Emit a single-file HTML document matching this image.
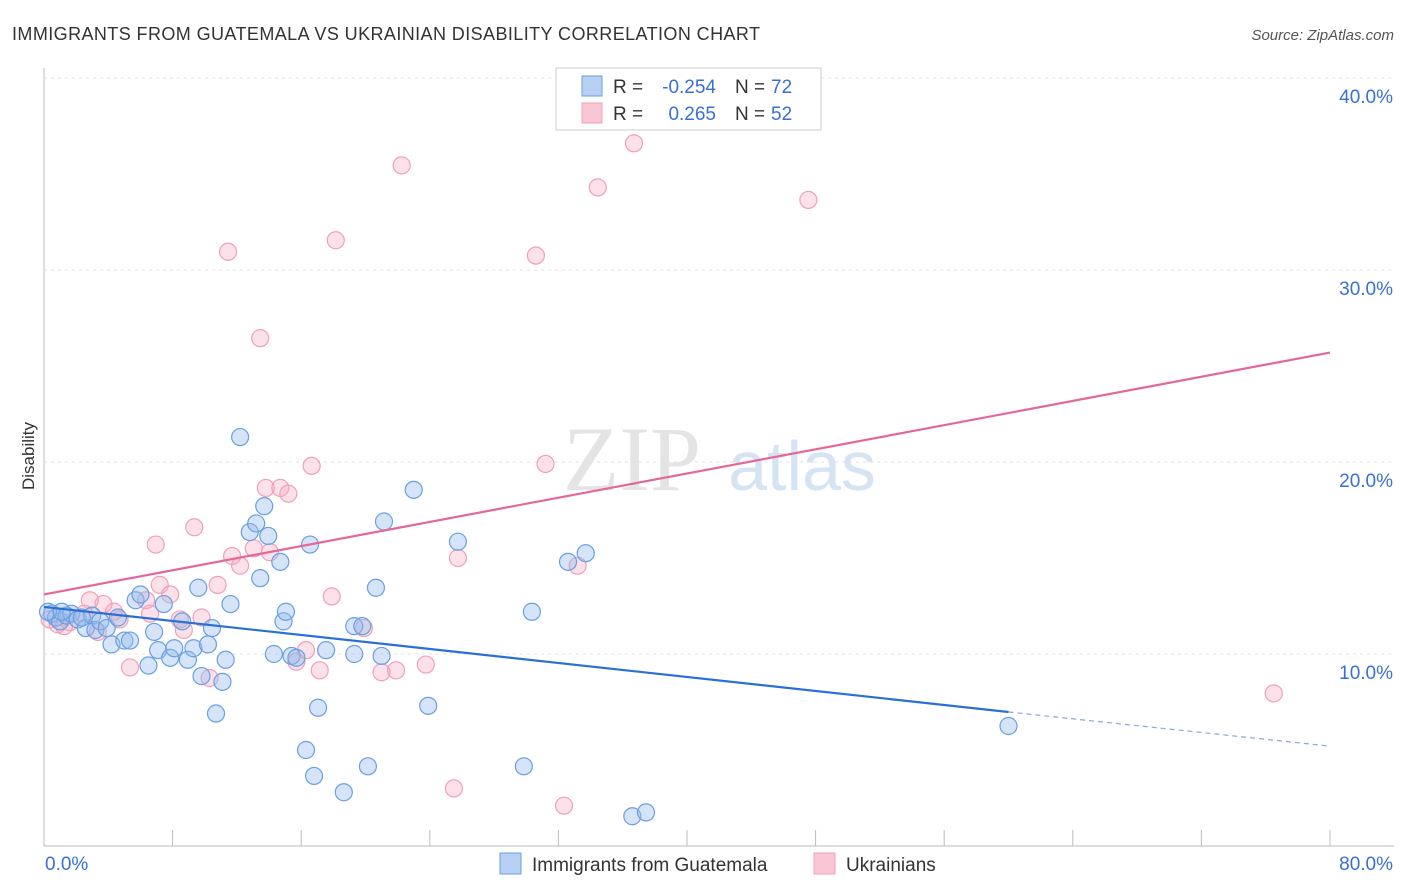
<!DOCTYPE html>
<html><head><meta charset="utf-8"><style>
body{margin:0;background:#fff;font-family:"Liberation Sans",sans-serif}
svg{display:block}
</style></head><body>
<svg id="chart" width="1406" height="892" xmlns="http://www.w3.org/2000/svg">
<text x="12" y="40" font-size="18" fill="#333" textLength="748">IMMIGRANTS FROM GUATEMALA VS UKRAINIAN DISABILITY CORRELATION CHART</text>
<text x="1394" y="40" font-size="15" fill="#555" font-style="italic" text-anchor="end">Source: ZipAtlas.com</text>
<text x="632" y="490" font-size="92" fill="#e4e4e4" font-family="Liberation Serif,serif" text-anchor="middle">ZIP</text>
<text x="802" y="490" font-size="70" fill="#d6e3f3" text-anchor="middle">atlas</text>
<text transform="translate(34,456) rotate(-90)" font-size="17" fill="#333" text-anchor="middle">Disability</text>
<g id="grid"></g><g id="pts"></g><g id="lines"></g>
<g>
<rect x="556" y="68" width="265" height="62" fill="#fff" stroke="#ccc"/>
<rect x="582" y="76" width="20" height="20" fill="#b5d0f3" stroke="#6a9fe0"/>
<rect x="582" y="103" width="20" height="20" fill="#f9c6d5" stroke="#f0a0b8"/>
<text x="613" y="93" font-size="19" fill="#333">R =</text>
<text x="716" y="93" font-size="19" fill="#3a70d0" text-anchor="end">-0.254</text>
<text x="735" y="93" font-size="19" fill="#333">N =</text>
<text x="771" y="93" font-size="19" fill="#3a70d0">72</text>
<text x="613" y="120" font-size="19" fill="#333">R =</text>
<text x="716" y="120" font-size="19" fill="#3a70d0" text-anchor="end">0.265</text>
<text x="735" y="120" font-size="19" fill="#333">N =</text>
<text x="771" y="120" font-size="19" fill="#3a70d0">52</text>
</g>
<g>
<rect x="500" y="853" width="21" height="21" fill="#b5d0f3" stroke="#6a9fe0"/>
<text x="532" y="871" font-size="19" fill="#333">Immigrants from Guatemala</text>
<rect x="814" y="853" width="21" height="21" fill="#f9c6d5" stroke="#f0a0b8"/>
<text x="846" y="871" font-size="19" fill="#333">Ukrainians</text>
</g>
</svg>
<script>
const xTicks=[0,10,20,30,40,50,60,70,80];
const yTicks=[10,20,30,40];
const blueX=[0.5,0.75,1.0,1.4,1.7,2.1,2.6,3.0,3.2,3.5,3.9,4.2,4.6,5.0,5.35,5.7,6.0,6.5,6.85,7.1,7.45,7.85,8.1,8.6,8.95,9.3,9.6,9.8,10.2,10.45,10.7,11.1,11.3,11.6,12.2,12.8,13.2,13.45,13.7,13.95,14.3,14.7,14.9,15.05,15.4,15.7,16.3,16.55,16.8,17.05,17.55,18.65,19.3,19.3,19.8,20.15,20.65,21.0,21.15,23.0,23.9,25.75,29.85,30.35,32.6,33.7,36.6,37.45,60.0,0.25,1.1,2.35];
const blueY=[12.1,11.9,11.7,12.0,12.1,11.8,11.35,12.0,11.25,11.7,11.35,10.5,11.9,10.7,10.7,12.8,13.1,9.4,11.15,10.2,12.6,9.8,10.3,11.7,9.7,10.3,13.45,8.85,10.5,11.35,6.9,8.55,9.7,12.6,21.3,16.35,16.8,13.95,17.7,16.15,10.0,14.8,11.7,12.2,9.9,9.8,5.0,15.7,3.65,7.2,10.2,2.8,10.0,11.45,11.45,4.15,13.45,9.9,16.9,18.55,7.3,15.85,4.15,12.2,14.8,15.25,1.55,1.75,6.25,12.2,12.2,11.9];
const pinkX=[0.35,0.85,1.25,1.6,2.5,2.85,3.35,3.7,4.35,4.7,5.35,6.35,6.6,6.95,7.2,7.85,8.45,8.7,9.35,9.8,10.3,10.8,11.45,11.7,12.2,13.05,13.45,13.8,14.05,14.7,15.2,15.7,16.3,16.65,17.15,17.9,18.15,19.9,21.0,21.9,22.25,23.75,25.5,25.75,30.6,31.2,32.35,33.2,34.45,36.7,47.55,76.5];
const pinkY=[11.8,11.55,11.45,11.65,12.1,12.8,11.15,12.6,12.2,11.8,9.3,12.8,12.1,15.7,13.6,13.1,11.8,11.25,16.6,11.9,8.75,13.6,30.95,15.1,14.6,15.5,26.45,18.65,15.3,18.65,18.35,9.6,10.2,19.8,9.15,13.0,31.55,11.35,9.05,9.15,35.45,9.45,3.0,15.0,30.75,19.9,2.1,14.6,34.3,36.6,33.65,7.95];
const blueTrend=[12.45,6.98,5.2];
const pinkTrend=[13.1,25.7];
const NS='http://www.w3.org/2000/svg';
const X0=44,X1=1330,Y0=846,PX=(X1-X0)/80,PY=19.2;
function sx(v){return X0+v*PX}
function sy(v){return Y0-v*PY}
function mk(tag,attrs,parent){const e=document.createElementNS(NS,tag);for(const k in attrs)e.setAttribute(k,attrs[k]);parent.appendChild(e);return e;}
const grid=document.getElementById('grid');
let e=mk('line',{x1:X0,y1:68,x2:X0,y2:Y0,stroke:'#bbb'},grid);


e=mk('line',{x1:X0,y1:Y0,x2:1394,y2:Y0,stroke:'#bbb'},grid);


yTicks.forEach(t=>{
 const g=mk('line',{x1:X0,y1:sy(t),x2:1394,y2:sy(t),stroke:'#e2e2e2','stroke-dasharray':'3,4'},grid);
 
 
 const l=mk('text',{x:1393,y:sy(t)+25,'font-size':19,fill:'#3a70d0','text-anchor':'end'},grid);
 l.textContent=t.toFixed(1)+'%';
 
 
});
for(let i=0;i<=10;i++){
 const v=i*8;
 const t=mk('line',{x1:sx(v),y1:Y0-16,x2:sx(v),y2:Y0,stroke:'#bbb'},grid);
 
 
}
[[xTicks[0],'start',45],[xTicks[8],'end',1393]].forEach(([v,a,x])=>{
 const l=mk('text',{x:x,y:870,'font-size':19,fill:'#3a70d0','text-anchor':a},grid);
 l.textContent=v.toFixed(1)+'%';
 
 
});
const pts=document.getElementById('pts');
pinkX.forEach((x,i)=>{
 const c=mk('circle',{cx:sx(x),cy:sy(pinkY[i]),r:8.5,fill:'rgba(246,170,196,0.35)',stroke:'#f0a0b8','stroke-width':1.2},pts);
 
 
});
blueX.forEach((x,i)=>{
 const c=mk('circle',{cx:sx(x),cy:sy(blueY[i]),r:8.5,fill:'rgba(150,188,238,0.4)',stroke:'#6a9fe0','stroke-width':1.2},pts);
 
 
});
const lines=document.getElementById('lines');
e=mk('line',{x1:sx(0),y1:sy(pinkTrend[0]),x2:sx(80),y2:sy(pinkTrend[1]),stroke:'#e5679a','stroke-width':2.2},lines);


e=mk('line',{x1:sx(0),y1:sy(blueTrend[0]),x2:sx(60),y2:sy(blueTrend[1]),stroke:'#2a6fd6','stroke-width':2.2},lines);


e=mk('line',{x1:sx(60),y1:sy(blueTrend[1]),x2:sx(80),y2:sy(blueTrend[2]),stroke:'#8aa8d8','stroke-width':1.2,'stroke-dasharray':'5,4'},lines);


</script>
</body></html>
